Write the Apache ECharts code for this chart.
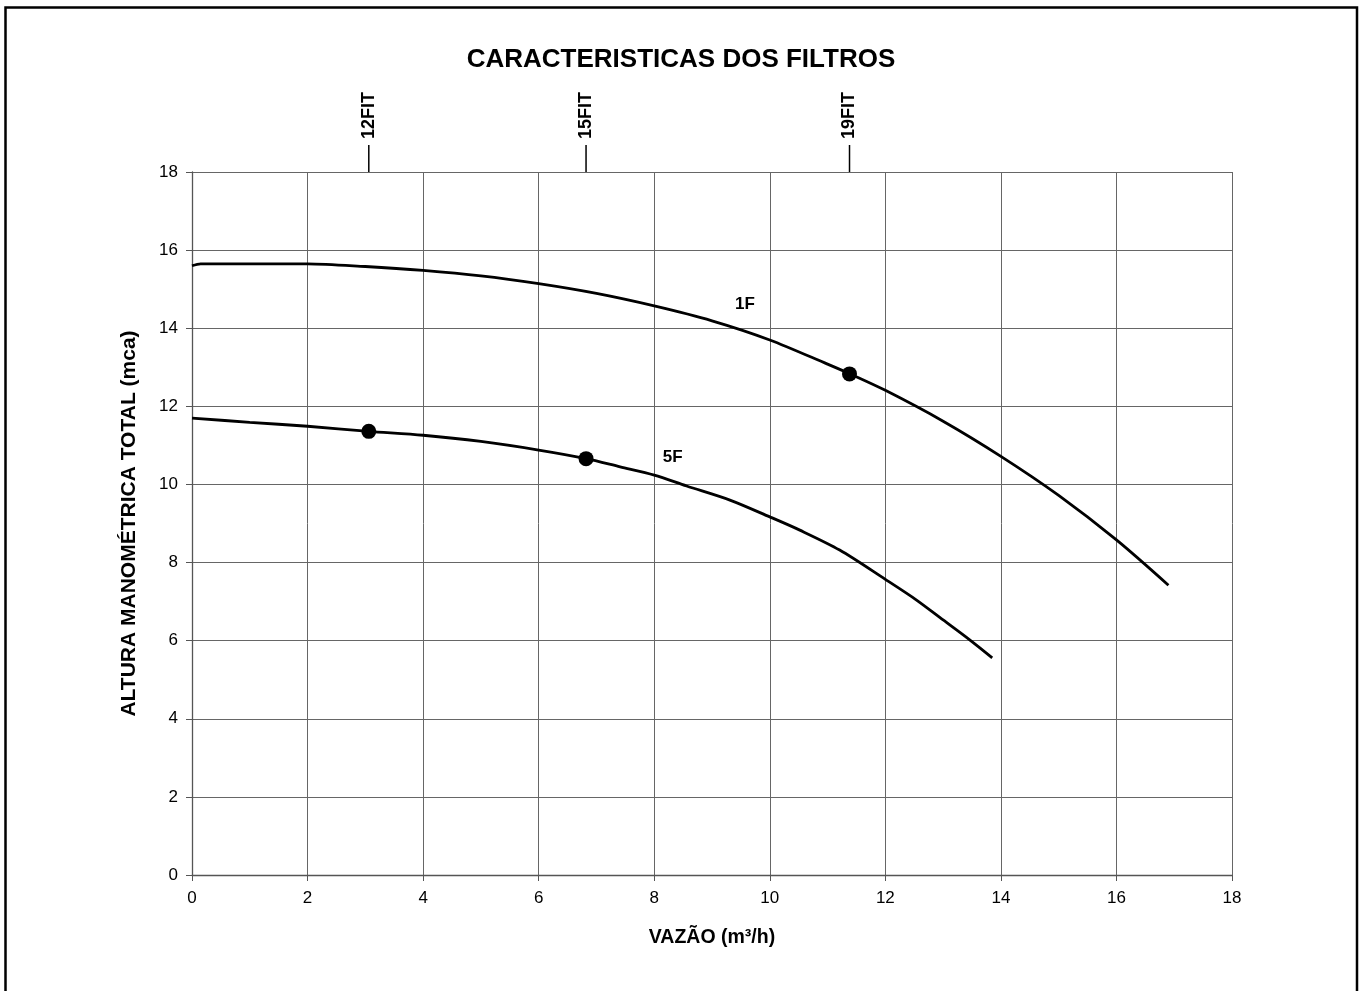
<!DOCTYPE html>
<html>
<head>
<meta charset="utf-8">
<script src="https://cdn.jsdelivr.net/npm/echarts@6/dist/echarts.min.js"></script>
<style>
html,body{margin:0;padding:0;background:#fff;}
#chart{width:1362px;height:991px;}
</style>
</head>
<body>
<div id="chart"></div>
<script>
// Curve 1F: flow (m3/h) and head (mca)
const q1F = [0, 0.15, 2, 3, 4, 5, 6, 7, 8, 9, 10, 11, 11.39, 12, 13, 14, 15, 16, 16.9];
const h1F = [15.6, 15.65, 15.65, 15.58, 15.48, 15.34, 15.14, 14.89, 14.57, 14.19, 13.70, 13.08, 12.83, 12.41, 11.62, 10.72, 9.72, 8.58, 7.42];
// Curve 5F
const q5F = [0, 1, 2, 3.06, 4, 5, 6, 6.82, 7.41, 8, 8.56, 9.31, 10, 10.52, 11.21, 12, 12.54, 13, 13.46, 13.85];
const h5F = [11.70, 11.59, 11.49, 11.36, 11.26, 11.10, 10.88, 10.66, 10.45, 10.24, 9.96, 9.60, 9.17, 8.83, 8.32, 7.57, 7.04, 6.53, 6.02, 5.56];
// Filter operating points
const filterNames = ['12FIT', '15FIT', '19FIT'];
const filterQ = [3.06, 6.82, 11.38];
const filterH = [11.36, 10.66, 12.83];
// Curve labels
const curveNames = ['1F', '5F'];
const curveLabelQ = [9.57, 8.32];
const curveLabelH = [14.6, 10.7];
// Axis ticks
const xTicks = [0, 2, 4, 6, 8, 10, 12, 14, 16, 18];
const yTicks = [0, 2, 4, 6, 8, 10, 12, 14, 16, 18];

const FONT = '"Liberation Sans", Arial, sans-serif';
const chart = echarts.init(document.getElementById('chart'), null, {renderer: 'canvas'});

const lineStyle = {color: '#000', width: 2.8};
const option = {
  backgroundColor: '#fff',
  animation: false,
  title: {
    text: 'CARACTERISTICAS DOS FILTROS',
    left: 'center', top: 42,
    textStyle: {fontFamily: FONT, fontSize: 26, fontWeight: 'bold', color: '#000'}
  },
  grid: {left: 192, right: 130, top: 172, bottom: 116},
  xAxis: {
    type: 'value', min: xTicks[0], max: xTicks[xTicks.length - 1], interval: 2,
    name: 'VAZÃO (m³/h)', nameLocation: 'middle', nameGap: 53,
    nameTextStyle: {fontFamily: FONT, fontSize: 19.5, fontWeight: 'bold', color: '#000'},
    axisLine: {show: true, onZero: false, lineStyle: {color: '#555', width: 1.3}},
    axisTick: {show: true, length: 6, lineStyle: {color: '#555'}},
    axisLabel: {fontFamily: FONT, fontSize: 17, color: '#000', margin: 15},
    splitLine: {show: true, lineStyle: {color: '#666', width: 1}}
  },
  yAxis: {
    type: 'value', min: yTicks[0], max: yTicks[yTicks.length - 1], interval: 2,
    name: 'ALTURA MANOMÉTRICA TOTAL (mca)', nameLocation: 'middle', nameGap: 52,
    nameTextStyle: {fontFamily: FONT, fontSize: 21, fontWeight: 'bold', color: '#000'},
    axisLine: {show: true, onZero: false, lineStyle: {color: '#555', width: 1.3}},
    axisTick: {show: true, length: 6, lineStyle: {color: '#555'}},
    axisLabel: {fontFamily: FONT, fontSize: 17, color: '#000', margin: 14},
    splitLine: {show: true, lineStyle: {color: '#666', width: 1}}
  },
  series: [
    {type: 'line', name: '1F', data: q1F.map((q, i) => [q, h1F[i]]), showSymbol: false, smooth: 0.3, lineStyle: lineStyle, z: 3},
    {type: 'line', name: '5F', data: q5F.map((q, i) => [q, h5F[i]]), showSymbol: false, smooth: 0.3, lineStyle: lineStyle, z: 3},
    {type: 'scatter', data: filterQ.map((q, i) => [q, filterH[i]]), symbol: 'circle', symbolSize: 15, itemStyle: {color: '#000', opacity: 1}, z: 4},
    {type: 'scatter', data: curveNames.map((n, i) => ({value: [curveLabelQ[i], curveLabelH[i]], name: n})),
      symbolSize: 0, silent: true, itemStyle: {opacity: 1},
      label: {show: true, position: 'inside', formatter: '{b}', fontFamily: FONT, fontSize: 17, fontWeight: 'bold', color: '#000', opacity: 1}}
  ]
};
chart.setOption(option);

// Filter markers above the plot, placed with the x scale
const plotTop = chart.convertToPixel({yAxisIndex: 0}, yTicks[yTicks.length - 1]);
const graphics = [
  {type: 'rect', shape: {x: 5.5, y: 7.5, width: 1351.5, height: 1000}, style: {fill: null, stroke: '#000', lineWidth: 2.5}, silent: true}
];
filterQ.forEach((q, i) => {
  const px = chart.convertToPixel({xAxisIndex: 0}, q);
  graphics.push({type: 'line', shape: {x1: px, y1: plotTop - 27, x2: px, y2: plotTop}, style: {stroke: '#000', lineWidth: 1.5}});
  graphics.push({type: 'text', x: px, y: plotTop - 33, rotation: Math.PI / 2,
    style: {text: filterNames[i], fontFamily: FONT, fontSize: 18, fontWeight: 'bold', fill: '#000', align: 'left', verticalAlign: 'middle'}});
});
chart.setOption({graphic: graphics});
</script>
</body>
</html>
